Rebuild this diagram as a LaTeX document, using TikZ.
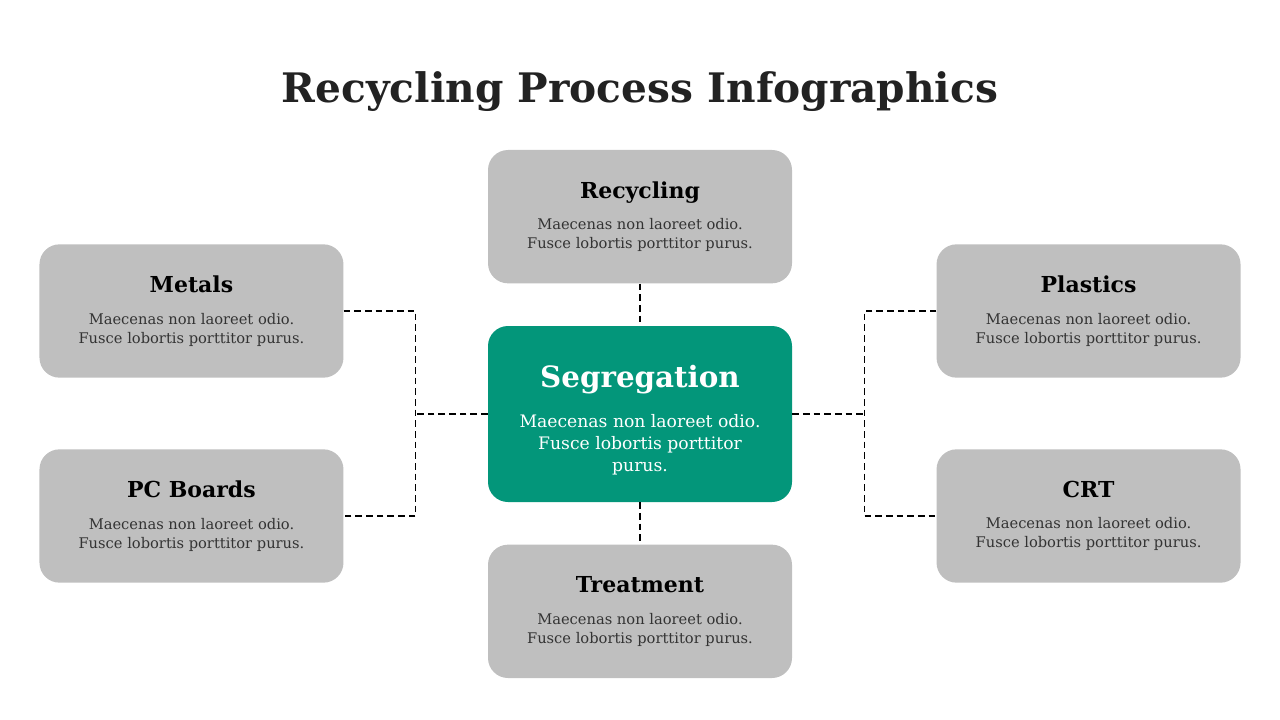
\documentclass[tikz,border=0pt]{standalone}
\usepackage{fontspec}
\setmainfont{DejaVu Serif}
\usetikzlibrary{positioning}

\definecolor{boxgray}{HTML}{BFBFBF}
\definecolor{seggreen}{HTML}{03967A}
\definecolor{blurbgray}{HTML}{333333}
\definecolor{headblack}{HTML}{222222}

\newcommand{\stagefont}{\fontsize{16.5}{20}\selectfont\bfseries}
\newcommand{\blurb}{Maecenas non laoreet odio.\\Fusce lobortis porttitor purus.}

\begin{document}
\begin{tikzpicture}[node distance=148pt, on grid,
    stagebox/.style={rectangle, rounded corners=15pt, fill=boxgray, text=blurbgray,
        minimum width=228pt, minimum height=100pt, inner sep=0pt, align=center,
        font=\fontsize{11}{14.25}\selectfont},
    hubbox/.style={rectangle, rounded corners=15pt, fill=seggreen, text=white,
        minimum width=228pt, minimum height=132pt, inner sep=0pt, align=center,
        font=\fontsize{12.9}{16.5}\selectfont},
    link/.style={draw=black, line width=1.1pt, dash pattern=on 5pt off 3pt}]
    \useasboundingbox (0,0) rectangle (960pt,-540pt);

    \node[font=\fontsize{30.5}{34}\selectfont\bfseries, text=headblack] (title) at (480pt,-69pt) {Recycling Process Infographics};

    \node[hubbox] (seg) at (480pt,-310.5pt) {{\fontsize{22}{26}\selectfont\bfseries\rule{0pt}{26pt}Segregation}\\[13pt]Maecenas non laoreet odio.\\Fusce lobortis porttitor\\purus.};
    \node[stagebox] (recycling) [above=of seg] {{\stagefont\color{black}Recycling}\\[9.5pt]\blurb};
    \node[stagebox] (treatment) [below=of seg] {{\stagefont\color{black}Treatment}\\[9.5pt]\blurb};
    \node[stagebox] (metals) [above left=77.25pt and 336.4pt of seg] {{\stagefont\color{black}Metals}\\[9.5pt]\blurb};
    \node[stagebox] (pcb) [below left=76.5pt and 336.4pt of seg] {{\stagefont\color{black}PC Boards}\\[9.5pt]\blurb};
    \node[stagebox] (plastics) [above right=77.25pt and 336.4pt of seg] {{\stagefont\color{black}Plastics}\\[9.5pt]\blurb};
    \node[stagebox] (crt) [below right=76.5pt and 336.4pt of seg] {{\stagefont\color{black}CRT}\\[9.5pt]\blurb};

    % junctions between the side boxes and the hub
    \path (seg.west) ++(-54pt,0) coordinate (jl);
    \path (seg.east) ++(54pt,0) coordinate (jr);

    \path[link]
    (recycling) -- (seg)
    (seg) -- (treatment)
    (seg.west) -- (jl)
    (seg.east) -- (jr);
    \draw[link] (metals.east) -| (jl) |- (pcb.east);
    \draw[link] (plastics.west) -| (jr) |- (crt.west);
\end{tikzpicture}
\end{document}
